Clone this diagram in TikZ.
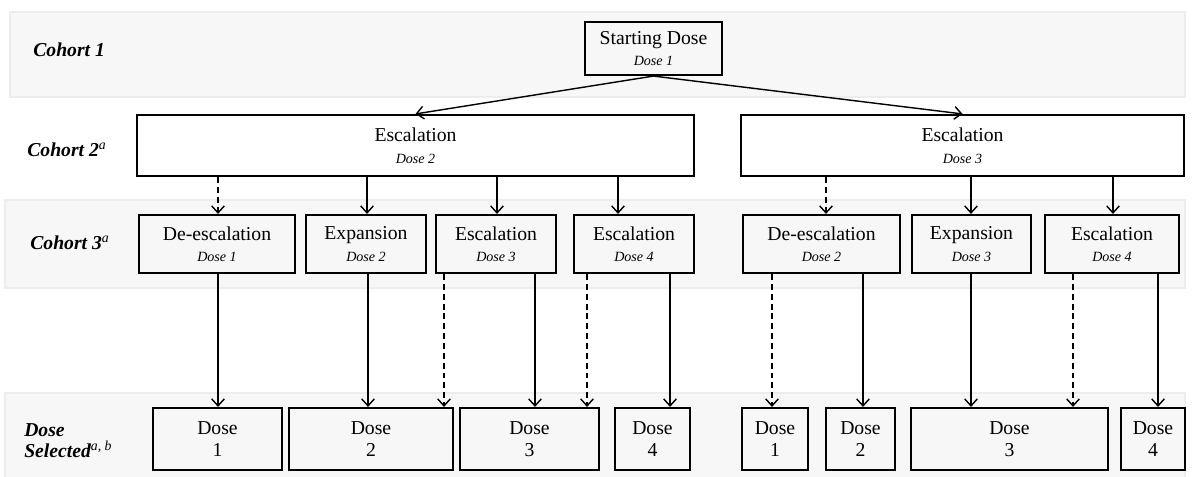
\documentclass[tikz,border=0pt]{standalone}
\usepackage{fontspec}
\setmainfont{Liberation Serif}
\usetikzlibrary{arrows.meta}
\tikzset{
  box/.style={draw, line width=1.5pt, align=center, inner sep=0pt,
    font=\fontsize{14}{16}\selectfont},
  band/.style={draw=black!7, fill=black!3, line width=2pt},
  lbl/.style={anchor=west, align=left, inner sep=0pt,
    font=\fontsize{14}{15}\selectfont\bfseries\itshape},
}
\newcommand{\dsub}[1]{{\fontsize{10}{12}\selectfont\itshape #1}}
\newcommand{\supa}[1]{\textsuperscript{\mdseries #1}}
\begin{document}
\begin{tikzpicture}[x=0.025cm, y=-0.025cm, >={Straight Barb[length=5pt,width=9pt]}]
      \useasboundingbox (0,0) rectangle (1193,476);
      % rows
      \draw[band] (10,12) rectangle (1185,97);
      \draw[band] (5,200) rectangle (1185,288);
      \draw[band] (5,393) rectangle (1185,482);
      \draw
        (33,50) node[lbl] (cohort1) {Cohort 1}
        (27,150) node[lbl] (cohort2) {Cohort 2\supa{a}}
        (30,243) node[lbl] (cohort3) {Cohort 3\supa{a}}
        (24,441) node[lbl] (selected) {Dose\\Selected\supa{a, b}};
      \draw
        (653.5,48.5) node[box, minimum width=3.425cm, minimum height=1.325cm] (start) {Starting Dose\\[-1pt]\dsub{Dose 1}}
        (415.5,145.5) node[box, minimum width=13.925cm, minimum height=1.525cm] (esc2) {Escalation\\\dsub{Dose 2}}
        (962.5,145.5) node[box, minimum width=11.075cm, minimum height=1.525cm] (esc3) {Escalation\\\dsub{Dose 3}};
      \draw
        (217,244) node[box, minimum width=3.9cm, minimum height=1.45cm] (c31) {De-escalation\\[-1pt]\dsub{Dose 1}}
        (366,244) node[box, minimum width=3cm, minimum height=1.45cm] (c32) {Expansion\\[-1pt]\dsub{Dose 2}}
        (496,244) node[box, minimum width=3cm, minimum height=1.45cm] (c33) {Escalation\\[-1pt]\dsub{Dose 3}}
        (634,244) node[box, minimum width=3cm, minimum height=1.45cm] (c34) {Escalation\\[-1pt]\dsub{Dose 4}}
        (821.5,244) node[box, minimum width=3.925cm, minimum height=1.45cm] (c35) {De-escalation\\[-1pt]\dsub{Dose 2}}
        (971.5,244) node[box, minimum width=2.975cm, minimum height=1.45cm] (c36) {Expansion\\[-1pt]\dsub{Dose 3}}
        (1112,244) node[box, minimum width=3.35cm, minimum height=1.45cm] (c37) {Escalation\\[-1pt]\dsub{Dose 4}};
      \draw
        (217.5,439) node[box, minimum width=3.225cm, minimum height=1.55cm] (d1) {Dose\\1}
        (371,439) node[box, minimum width=4.1cm, minimum height=1.55cm] (d2) {Dose\\2}
        (529.5,439) node[box, minimum width=3.475cm, minimum height=1.55cm] (d3) {Dose\\3}
        (652.5,439) node[box, minimum width=1.875cm, minimum height=1.55cm] (d4) {Dose\\4}
        (775,439) node[box, minimum width=1.65cm, minimum height=1.55cm] (d5) {Dose\\1}
        (860.5,439) node[box, minimum width=1.725cm, minimum height=1.55cm] (d6) {Dose\\2}
        (1009.5,439) node[box, minimum width=4.925cm, minimum height=1.55cm] (d7) {Dose\\3}
        (1153,439) node[box, minimum width=1.6cm, minimum height=1.55cm] (d8) {Dose\\4};
      \begin{scope}[->, line width=1pt, dash pattern=on 4.2pt off 2.8pt]
        \draw[solid] (start.south) to (esc2.north);
        \draw[solid] (start.south) to (esc3.north);
        \draw (218,0 |- esc2.south) to (218,0 |- c31.north);
        \draw[solid] (367,0 |- esc2.south) to (367,0 |- c32.north);
        \draw[solid] (497,0 |- esc2.south) to (497,0 |- c33.north);
        \draw[solid] (618,0 |- esc2.south) to (618,0 |- c34.north);
        \draw (826,0 |- esc3.south) to (826,0 |- c35.north);
        \draw[solid] (971,0 |- esc3.south) to (971,0 |- c36.north);
        \draw[solid] (1113,0 |- esc3.south) to (1113,0 |- c37.north);
        \draw[solid] (218,0 |- c31.south) to (218,0 |- d1.north);
        \draw[solid] (368,0 |- c32.south) to (368,0 |- d2.north);
        \draw (444,0 |- c33.south) to (444,0 |- d2.north);
        \draw[solid] (535,0 |- c33.south) to (535,0 |- d3.north);
        \draw (587,0 |- c34.south) to (587,0 |- d3.north);
        \draw[solid] (670,0 |- c34.south) to (670,0 |- d4.north);
        \draw (772,0 |- c35.south) to (772,0 |- d5.north);
        \draw[solid] (863,0 |- c35.south) to (863,0 |- d6.north);
        \draw[solid] (971,0 |- c36.south) to (971,0 |- d7.north);
        \draw (1073,0 |- c37.south) to (1073,0 |- d7.north);
        \draw[solid] (1158,0 |- c37.south) to (1158,0 |- d8.north);
      \end{scope}
    \end{tikzpicture}
\end{document}
